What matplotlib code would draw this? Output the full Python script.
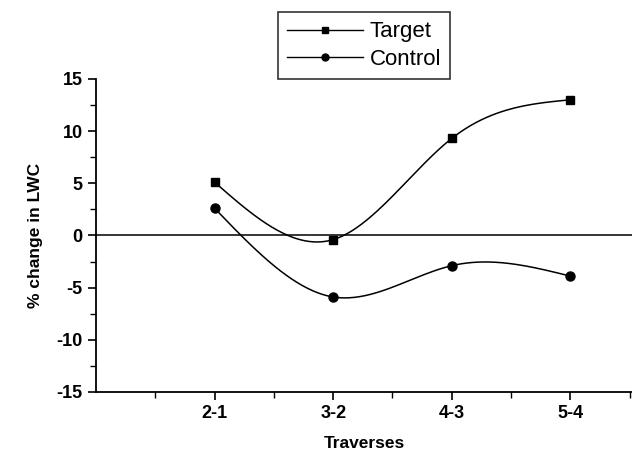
import numpy as np
import matplotlib
matplotlib.use('Agg')
import matplotlib.pyplot as plt
from matplotlib.ticker import MultipleLocator

plt.rc('font', **{'family': 'sans-serif', 'sans-serif': ['Liberation Sans', 'DejaVu Sans']})
plt.rc('axes', unicode_minus=False)

# data
traverses = ['2-1', '3-2', '4-3', '5-4']
target = [5.1, -0.4, 9.3, 13.0]
control = [2.6, -5.9, -2.9, -3.9]


def spline(xs, ys, n=200):
    # natural cubic spline, only used to draw the smooth connecting line
    xs = np.asarray(xs, float)
    ys = np.asarray(ys, float)
    k = len(xs)
    h = np.diff(xs)
    A = np.zeros((k, k))
    r = np.zeros(k)
    A[0, 0] = A[-1, -1] = 1
    for i in range(1, k - 1):
        A[i, i - 1] = h[i - 1]
        A[i, i] = 2 * (h[i - 1] + h[i])
        A[i, i + 1] = h[i]
        r[i] = 6 * ((ys[i + 1] - ys[i]) / h[i] - (ys[i] - ys[i - 1]) / h[i - 1])
    m = np.linalg.solve(A, r)
    xx = np.linspace(xs[0], xs[-1], n)
    idx = np.clip(np.searchsorted(xs, xx) - 1, 0, k - 2)
    x0, x1 = xs[idx], xs[idx + 1]
    hh = x1 - x0
    a = (x1 - xx) / hh
    b = (xx - x0) / hh
    yy = (a * ys[idx] + b * ys[idx + 1]
          + ((a ** 3 - a) * m[idx] + (b ** 3 - b) * m[idx + 1]) * hh ** 2 / 6)
    return xx, yy


x = np.arange(1, len(traverses) + 1)

fig = plt.figure(figsize=(6.32, 4.51), dpi=100)
ax = fig.add_axes([0.152, 0.131, 0.848, 0.694])

for ys, mk, ms, lab in [(target, 's', 6, 'Target'), (control, 'o', 6.5, 'Control')]:
    xx, yy = spline(x, ys)
    ax.plot(xx, yy, color='k', lw=1.1)
    ax.plot(x, ys, ls='none', marker=mk, ms=ms, color='k')
    # legend proxy
    ax.plot([], [], color='k', lw=1, marker=mk, ms=5, label=lab)

ax.axhline(0, color='k', lw=1.1)

ax.set_xlim(0, 4.52)
ax.set_ylim(-15, 15)
ax.set_xticks(x)
ax.set_xticklabels(traverses)
ax.set_xticks(np.arange(0.5, 4.6, 1), minor=True)
ax.yaxis.set_major_locator(MultipleLocator(5))
ax.yaxis.set_minor_locator(MultipleLocator(2.5))

ax.spines['top'].set_visible(False)
ax.spines['right'].set_visible(False)
for s in ['left', 'bottom']:
    ax.spines[s].set_linewidth(1.3)
ax.tick_params(which='major', length=6, width=1.2, labelsize=13)
ax.tick_params(which='minor', length=4, width=1)
for t in ax.get_xticklabels() + ax.get_yticklabels():
    t.set_fontweight('bold')

ax.set_xlabel('Traverses', fontsize=12.5, fontweight='bold', labelpad=10)
ax.set_ylabel('% change in LWC', fontsize=12.5, fontweight='bold', labelpad=10)

leg = ax.legend(loc='lower center', bbox_to_anchor=(0.50, 1.0), fontsize=16,
                frameon=True, fancybox=False, edgecolor='k', handlelength=3.4,
                borderpad=0.4, labelspacing=0.3, handletextpad=0.3,
                borderaxespad=0)
leg.get_frame().set_linewidth(1.2)

fig.savefig('out.png', dpi=100)
